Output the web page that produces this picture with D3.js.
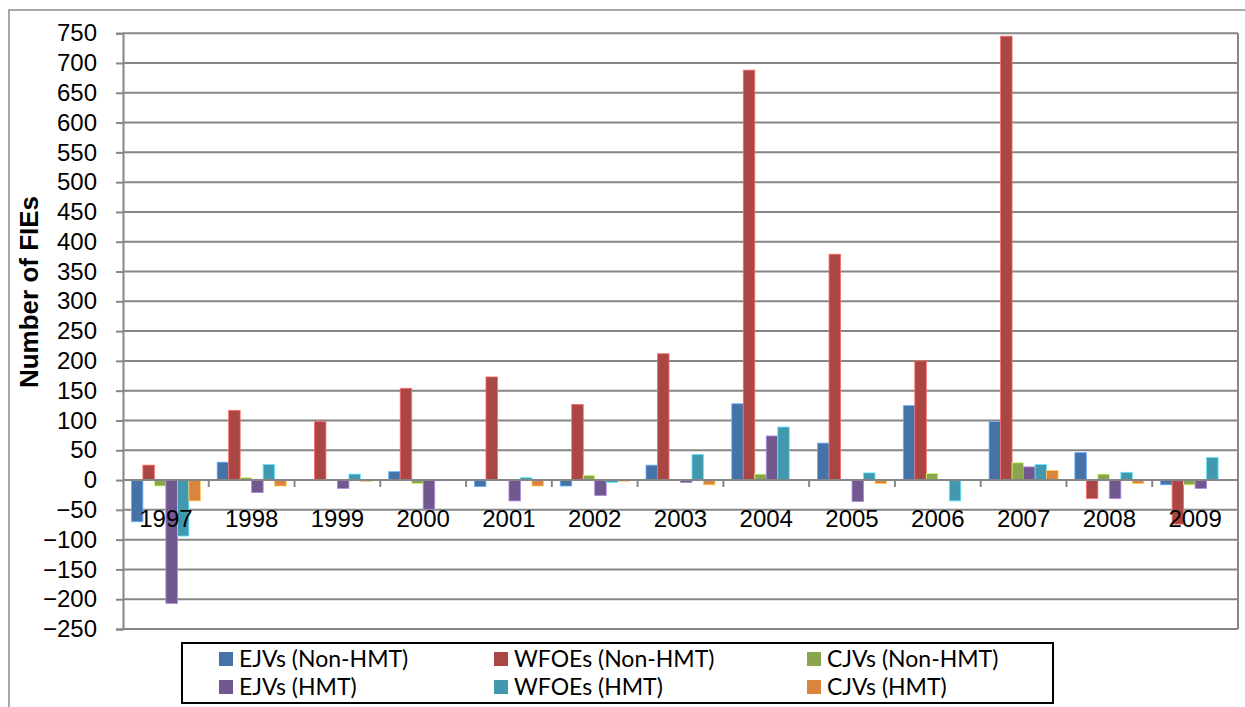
<!DOCTYPE html>
<html>
<head>
<meta charset="utf-8">
<script src="https://cdn.jsdelivr.net/npm/d3@7/dist/d3.min.js"></script>
<style>
  html, body { margin: 0; padding: 0; background: #fff; }
  svg { display: block; }
</style>
</head>
<body>
<svg id="chart" width="1245" height="707"></svg>
<script>
// ---- data ----
const years = ["1997","1998","1999","2000","2001","2002","2003","2004","2005","2006","2007","2008","2009"];
const seriesNames = ["EJVs (Non-HMT)","WFOEs (Non-HMT)","CJVs (Non-HMT)","EJVs (HMT)","WFOEs (HMT)","CJVs (HMT)"];
const ejvNonHMT  = [-70, 30, 0, 14, -11, -10, 25, 128, 62, 125, 98, 46, -8];
const wfoeNonHMT = [25, 117, 98, 154, 173, 127, 212, 688, 379, 200, 745, -31, -74];
const cjvNonHMT  = [-10, 4, 0, -6, 0, 8, 0, 10, 0, 11, 29, 10, -8];
const ejvHMT     = [-207, -21, -14, -49, -35, -26, -4, 74, -36, 0, 22, -31, -14];
const wfoeHMT    = [-94, 26, 10, -1, 4, -4, 43, 89, 12, -35, 26, 13, 38];
const cjvHMT     = [-35, -10, -2, 0, -10, -2, -8, 0, -6, 0, 16, -6, -1];
const yTicks = [-250,-200,-150,-100,-50,0,50,100,150,200,250,300,350,400,450,500,550,600,650,700,750];
const colors = ["#4572A7","#AA4643","#89A54E","#71588F","#4198AF","#DB843D"];
const seriesValues = [ejvNonHMT, wfoeNonHMT, cjvNonHMT, ejvHMT, wfoeHMT, cjvHMT];

// ---- layout ----
const svg = d3.select("#chart");
const plot = {left: 123, right: 1238, top: 33.2, bottom: 629};

// outer border
svg.append("rect").attr("x", 9).attr("y", 10).attr("width", 1245).attr("height", 720)
  .attr("fill", "none").attr("stroke", "#8c8c8c").attr("stroke-width", 1.5);

const x = d3.scaleBand().domain(years).range([plot.left, plot.right]).paddingInner(0).paddingOuter(0);
const xs = d3.scaleBand().domain(seriesNames).range([0, x.bandwidth()]).paddingInner(0).paddingOuter(0.73);
const y = d3.scaleLinear().domain([-250, 750]).range([plot.bottom, plot.top]);

const gridColor = "#868686";

// gridlines
svg.append("g").selectAll("line").data(yTicks).join("line")
  .attr("x1", plot.left).attr("x2", plot.right)
  .attr("y1", d => y(d)).attr("y2", d => y(d))
  .attr("stroke", gridColor).attr("stroke-width", 2);

// plot right border
svg.append("line").attr("x1", plot.right).attr("x2", plot.right)
  .attr("y1", y(750)).attr("y2", y(-250)).attr("stroke", gridColor).attr("stroke-width", 2);

// y axis
const yAxis = d3.axisLeft(y).tickValues(yTicks).tickSize(7).tickPadding(19);
const gy = svg.append("g").attr("transform", `translate(${plot.left},0)`).call(yAxis);
gy.select(".domain").attr("stroke", gridColor).attr("stroke-width", 2);
gy.selectAll(".tick line").attr("stroke", gridColor).attr("stroke-width", 2);
gy.selectAll(".tick text").attr("font-family", "Liberation Sans, Arial, sans-serif")
  .attr("font-size", 24).attr("fill", "#000");

// bars
const groups = svg.append("g").selectAll("g").data(seriesNames).join("g")
  .attr("fill", (d, i) => colors[i]);
groups.each(function(name, si) {
  d3.select(this).selectAll("rect").data(seriesValues[si].map((v, i) => ({year: years[i], v})))
    .join("rect")
    .attr("x", d => x(d.year) + xs(name))
    .attr("width", xs.bandwidth())
    .attr("y", d => y(Math.max(0, d.v)))
    .attr("height", d => Math.abs(y(d.v) - y(0)))
    .attr("stroke", d3.color(colors[si]).brighter(1.2))
    .attr("stroke-width", 0.8);
});

// x axis (zero line) with ticks between categories
const xAxisG = svg.append("g");
xAxisG.append("line").attr("x1", plot.left).attr("x2", plot.right)
  .attr("y1", y(0)).attr("y2", y(0)).attr("stroke", gridColor).attr("stroke-width", 2);
xAxisG.selectAll("line.ct").data(years.slice(1)).join("line").attr("class", "ct")
  .attr("x1", d => x(d)).attr("x2", d => x(d))
  .attr("y1", y(0)).attr("y2", y(0) + 7)
  .attr("stroke", gridColor).attr("stroke-width", 2);
xAxisG.selectAll("text").data(years).join("text")
  .attr("x", d => x(d) + x.bandwidth() / 2)
  .attr("y", y(0) + 47)
  .attr("text-anchor", "middle")
  .attr("font-family", "Liberation Sans, Arial, sans-serif")
  .attr("font-size", 24).attr("fill", "#000")
  .text(d => d);

// y axis title
svg.append("text")
  .attr("transform", "translate(38,292) rotate(-90)")
  .attr("text-anchor", "middle")
  .attr("font-family", "Liberation Sans, Arial, sans-serif")
  .attr("font-weight", "bold").attr("font-size", 26).attr("fill", "#000")
  .text("Number of FIEs");

// legend
const legend = svg.append("g");
legend.append("rect").attr("x", 182).attr("y", 643).attr("width", 871).attr("height", 60)
  .attr("fill", "#fff").attr("stroke", "#000").attr("stroke-width", 2);
const colX = [219, 494, 807];
const rowY = [659, 687];
seriesNames.forEach((name, i) => {
  const cx = colX[i % 3], cy = rowY[Math.floor(i / 3)];
  legend.append("rect").attr("x", cx).attr("y", cy - 7).attr("width", 14).attr("height", 14)
    .attr("fill", colors[i]);
  legend.append("text").attr("x", cx + 20).attr("y", cy)
    .attr("dy", "0.35em")
    .attr("font-family", "Lato, 'Open Sans', sans-serif")
    .attr("font-size", 23).attr("fill", "#000")
    .text(name);
});
</script>
</body>
</html>
